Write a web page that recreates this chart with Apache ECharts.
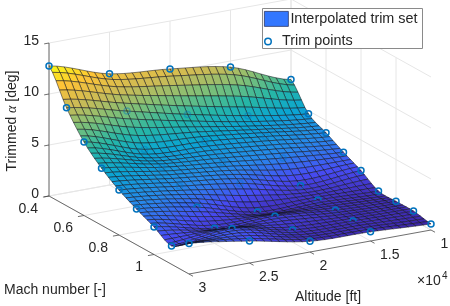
<!DOCTYPE html>
<html><head><meta charset="utf-8">
<style>html,body{margin:0;padding:0;background:#fff}#c{width:450px;height:306px}</style>
<script src="https://cdn.jsdelivr.net/npm/echarts@6/dist/echarts.min.js"></script>
</head><body><div id="c"></div>
<script>
// Trim points: altitudes [1e4 ft], Mach numbers, trimmed alpha [deg] by Mach row / altitude column
const altitudes = [3, 2.5, 2, 1.5, 1];
const machs = [0.4, 0.5, 0.6, 0.7, 0.8, 0.9, 1.0, 1.1, 1.2];
const alpha04 = [12.75, 10.9, 10.3, 9.4, 7.1];
const alpha05 = [9.6, 8.2, 6.8, 5.6, 4.7];
const alpha06 = [7.2, 5.4, 5.1, 4.5, 3.8];
const alpha07 = [5.6, 4.6, 4.0, 3.35, 2.85];
const alpha08 = [4.4, 3.7, 2.9, 1.6, 2.0];
const alpha09 = [3.5, 2.6, 1.05, 1.15, 0.95];
const alpha10 = [2.7, 1.5, 1.6, 1.1, 0.9];
const alpha11 = [1.8, 2.4, 1.2, 1.0, 0.9];
const alpha12 = [3.0, 2.15, 1.05, 0.9, 0.6];
const alphaTable = [alpha04, alpha05, alpha06, alpha07, alpha08, alpha09, alpha10, alpha11, alpha12];
const zTicks = [0, 5, 10, 15];
const machTicks = [0.4, 0.6, 0.8, 1];
const altTicks = [3, 2.5, 2, 1.5, 1];
const machTickLabels = ['0.4', '0.6', '0.8', '1'];
const altTickLabels = ['3', '2.5', '2', '1.5', '1'];

const TEXT = '#262626', FONT = '"Liberation Sans", Arial, sans-serif', FS = 14;
const SUB_ALT = 8, SUB_MACH = 5;
const project = (a, m, z) => [49 + 175 * (m - 0.4) + 121 * (3 - a), 196 + 97.5 * (m - 0.4) - 22 * (3 - a) - 10.2 * z];

const parula = [[62,38,168],[71,76,244],[40,136,235],[10,165,210],[40,183,165],[125,191,120],[205,187,85],[254,195,55],[249,251,21]];
function colorOf(z) {
  let t = Math.max(0, Math.min(0.9999, (z - 0.6) / 12.15)) * (parula.length - 1);
  const k = Math.floor(t), f = t - k, A = parula[k], B = parula[k + 1];
  return 'rgb(' + A.map((v, n) => Math.round(v + (B[n] - v) * f)).join(',') + ')';
}
// smooth surface between trim points (Catmull-Rom), evaluated while drawing
function cr(p0, p1, p2, p3, t) {
  return 0.5 * (2 * p1 + (p2 - p0) * t + (2 * p0 - 5 * p1 + 4 * p2 - p3) * t * t + (3 * p1 - p0 - 3 * p2 + p3) * t * t * t);
}
const cl = (v, n) => Math.max(0, Math.min(n - 1, v));
function surf(ai, mj) {
  const i = Math.min(Math.floor(ai), altitudes.length - 2), j = Math.min(Math.floor(mj), machs.length - 2);
  const tA = ai - i, tM = mj - j, rows = [];
  for (let q = -1; q <= 2; q++) {
    const r = alphaTable[cl(j + q, machs.length)];
    rows.push(cr(r[cl(i - 1, 5)], r[cl(i, 5)], r[cl(i + 1, 5)], r[cl(i + 2, 5)], tA));
  }
  return cr(rows[0], rows[1], rows[2], rows[3], tM);
}
const altAt = ai => 3 - 0.5 * ai, machAt = mj => 0.4 + 0.1 * mj;

// far-to-near cell list
const cells = [];
for (let q = 0; q < 8 * SUB_MACH; q++)
  for (let p = 4 * SUB_ALT - 1; p >= 0; p--) cells.push([p, q]);

// box segments [a1,m1,z1,a2,m2,z2]
const walls = [], axes = [];
machTicks.forEach(m => {
  walls.push([3, m, 0, 1, m, 0]);
  walls.push([1, m, 0, 1, m, 15]);
  axes.push([3, m, 0, 3.05, m, 0]);
});
altTicks.forEach(a => {
  walls.push([a, 0.4, 0, a, 1.2, 0]);
  walls.push([a, 0.4, 0, a, 0.4, 15]);
  axes.push([a, 1.2, 0, a, 1.223, 0]);
});
zTicks.forEach(z => {
  walls.push([3, 0.4, z, 1, 0.4, z]);
  walls.push([1, 0.4, z, 1, 1.2, z]);
  axes.push([3, 0.4, z, 3.04, 0.4, z]);
});
axes.push([3, 0.4, 0, 3, 0.4, 15], [3, 0.4, 0, 3, 1.2, 0], [3, 1.2, 0, 1, 1.2, 0]);

const segSeries = (data, color, width, z) => ({
  type: 'custom', coordinateSystem: 'cartesian2d', silent: true, clip: false, z, data,
  renderItem: (pr, api) => {
    const a = api.coord(project(api.value(0), api.value(1), api.value(2)));
    const b = api.coord(project(api.value(3), api.value(4), api.value(5)));
    return { type: 'line', shape: { x1: a[0], y1: a[1], x2: b[0], y2: b[1] }, style: { stroke: color, lineWidth: width, fill: null } };
  }
});

const trimData = [], arcData = [];
machs.forEach((m, j) => altitudes.forEach((a, i) => {
  const z = alphaTable[j][i], edge = i === 0 || i === 4 || j === 0 || j === 8;
  trimData.push({ value: project(a, m, z), itemStyle: { opacity: edge ? 1 : (j >= 5 ? 0.12 : 0.4) } });
  if (!edge && (j >= 5 || (i === 3 && j === 4))) arcData.push(project(a, m, z));
}));

const labels = [];
zTicks.forEach(z => { const p = project(3, 0.4, z); labels.push([p[0] - 10, p[1] - 2, String(z), 'right']); });
machTicks.forEach((m, k) => { const p = project(3, m, 0); labels.push([p[0] - 11, p[1] + 13, machTickLabels[k], 'right']); });
altTicks.forEach((a, k) => { const p = project(a, 1.2, 0); labels.push([p[0] + 9.5, p[1] + 14.5, altTickLabels[k], 'left']); });

const chart = echarts.init(document.getElementById('c'), null, { renderer: 'canvas' });
chart.setOption({
  animation: false,
  backgroundColor: '#fff',
  grid: { left: 0, right: 0, top: 0, bottom: 0 },
  xAxis: { type: 'value', min: 0, max: 450, show: false },
  yAxis: { type: 'value', min: 0, max: 306, inverse: true, show: false },
  legend: [
    { left: 264, top: 11, itemWidth: 24, itemHeight: 15, itemGap: 0, orient: 'vertical', selectedMode: false, padding: 0, z: 20,
      textStyle: { color: TEXT, fontFamily: FONT, fontSize: 14.4, padding: [0, 0, 0, -3] },
      data: [{ name: 'Interpolated trim set', icon: 'rect', itemStyle: { color: '#3377ff', borderColor: '#26305c', borderWidth: 0.75 } }] },
    { left: 264, top: 34.5, itemWidth: 24, itemHeight: 6.5, itemGap: 0, orient: 'vertical', selectedMode: false, padding: 0, z: 20,
      textStyle: { color: TEXT, fontFamily: FONT, fontSize: 14.4, padding: [0, 0, 0, -3] },
      data: [{ name: 'Trim points', icon: 'circle', itemStyle: { color: '#ffffff', borderColor: '#0072BD', borderWidth: 1.5, opacity: 1 } }] }
  ],
  graphic: [
    { type: 'rect', z: 15, shape: { x: 262.5, y: 8.5, width: 160, height: 40 }, style: { fill: '#fff', stroke: '#8a8a8a', lineWidth: 1 } },
    { type: 'text', z: 15, x: 12, y: 121, rotation: Math.PI / 2, style: {
        text: 'Trimmed {a|α} [deg]', fill: TEXT, font: '14px ' + FONT, align: 'center', verticalAlign: 'middle',
        rich: { a: { fontFamily: '"Liberation Serif"', fontStyle: 'italic', fontSize: 14, fill: TEXT } } } },
    { type: 'text', z: 15, x: 4, y: 290, style: { text: 'Mach number [-]', fill: TEXT, font: '14px ' + FONT, align: 'left', verticalAlign: 'middle' } },
    { type: 'text', z: 15, x: 328, y: 297, style: { text: 'Altitude [ft]', fill: TEXT, font: '14px ' + FONT, align: 'center', verticalAlign: 'middle' } },
    { type: 'text', z: 15, x: 417, y: 281, style: { text: '×10', fill: TEXT, font: '14px ' + FONT, align: 'left', verticalAlign: 'middle' } },
    { type: 'text', z: 15, x: 442, y: 276, style: { text: '4', fill: TEXT, font: '10px ' + FONT, align: 'left', verticalAlign: 'middle' } }
  ],
  series: [
    segSeries(walls, '#e6e6e6', 1, 1),
    segSeries(axes, '#4a4a4a', 0.8, 2),
    { name: 'Interpolated trim set', type: 'custom', coordinateSystem: 'cartesian2d', silent: true, clip: false, z: 3, progressive: 0, data: cells,
      renderItem: (pr, api) => {
        const p = api.value(0) / SUB_ALT, q = api.value(1) / SUB_MACH, dp = 1 / SUB_ALT, dq = 1 / SUB_MACH;
        const c = [[p, q], [p + dp, q], [p + dp, q + dq], [p, q + dq]];
        const zs = c.map(v => surf(v[0], v[1]));
        const pts = c.map((v, n) => api.coord(project(altAt(v[0]), machAt(v[1]), zs[n])));
        return { type: 'polygon', shape: { points: pts }, style: { fill: colorOf((zs[0] + zs[1] + zs[2] + zs[3]) / 4), stroke: 'rgba(15,15,25,0.85)', lineWidth: 0.6 } };
      } },
    { name: 'Trim points', type: 'scatter', coordinateSystem: 'cartesian2d', silent: true, clip: false, z: 4, symbol: 'circle', symbolSize: 6,
      itemStyle: { color: 'transparent', borderColor: '#0072BD', borderWidth: 1.5 }, data: trimData },
    { type: 'custom', coordinateSystem: 'cartesian2d', silent: true, clip: false, z: 5, data: arcData,
      renderItem: (pr, api) => {
        const c = api.coord([api.value(0), api.value(1)]);
        return { type: 'arc', shape: { cx: c[0], cy: c[1], r: 3, startAngle: Math.PI, endAngle: 2 * Math.PI }, style: { stroke: '#0072BD', lineWidth: 1.5, fill: null } };
      } },
    { type: 'custom', coordinateSystem: 'cartesian2d', silent: true, clip: false, z: 6, data: labels,
      renderItem: (pr, api) => {
        const c = api.coord([api.value(0), api.value(1)]);
        return { type: 'text', x: c[0], y: c[1], style: { text: labels[api.getCurrentSeriesIndices ? pr.dataIndex : pr.dataIndex][2], align: labels[pr.dataIndex][3], verticalAlign: 'middle', fill: TEXT, font: FS + 'px ' + FONT } };
      } }
  ]
});
</script></body></html>
